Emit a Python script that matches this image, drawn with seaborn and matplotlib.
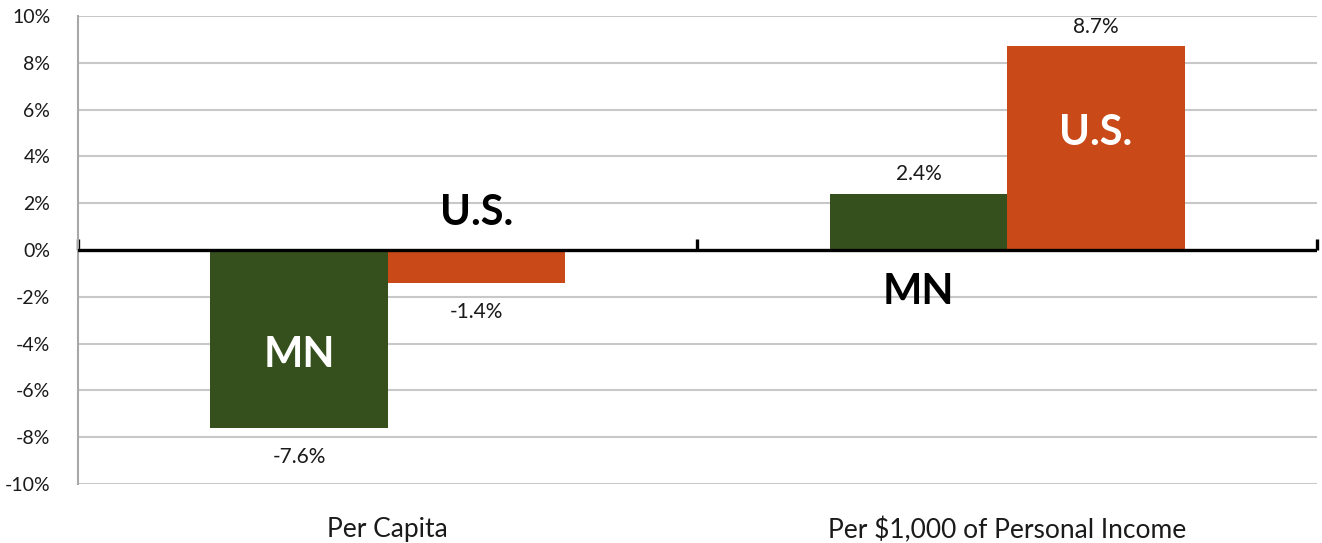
import matplotlib
matplotlib.use("Agg")
import matplotlib.pyplot as plt
import matplotlib.ticker as mticker
import pandas as pd
import seaborn as sns

# Percent change by measure, Minnesota vs. United States
categories = ["Per Capita", "Per $1,000 of Personal Income"]
series = ["MN", "U.S."]
mn_values = [-7.6, 2.4]
us_values = [-1.4, 8.7]
value_labels_mn = ["-7.6%", "2.4%"]
value_labels_us = ["-1.4%", "8.7%"]
y_ticks = [-10, -8, -6, -4, -2, 0, 2, 4, 6, 8, 10]

colors = {"MN": "#35501c", "U.S.": "#c94a18"}

df = pd.DataFrame({
    "category": categories * 2,
    "region": ["MN"] * len(categories) + ["U.S."] * len(categories),
    "value": mn_values + us_values,
})

sns.set_theme(style="white")
plt.rcParams["font.family"] = ["Lato", "DejaVu Sans"]

fig = plt.figure(figsize=(13.22, 5.43), dpi=100)
ax = fig.add_axes([0.059, 0.1087, 0.9372, 0.8618])

sns.barplot(data=df, x="category", y="value", hue="region", order=categories,
            hue_order=series, palette=colors, width=0.573, gap=0,
            saturation=1, legend=False, ax=ax, edgecolor="none", linewidth=0)

ax.set_xlim(-0.5, 1.5)
ax.set_ylim(-10, 10)
ax.set_yticks(y_ticks)
ax.yaxis.set_major_formatter(mticker.FuncFormatter(lambda v, _: f"{int(round(v))}%"))
ax.set_xlabel("")
ax.set_ylabel("")

# Horizontal gridlines and left axis
ax.grid(axis="y", color="#c8c8c8", linewidth=1.5)
ax.set_axisbelow(True)
for side in ("top", "right", "bottom"):
    ax.spines[side].set_visible(False)
ax.spines["left"].set_color("#a8a8a8")
ax.spines["left"].set_linewidth(1.5)
ax.tick_params(axis="y", direction="out", length=8, width=1.5, color="#a8a8a8",
               labelsize=14, labelcolor="#1a1a1a", pad=12)
ax.tick_params(axis="x", length=0, labelsize=19, labelcolor="#1a1a1a", pad=24)

# Category axis drawn along the zero line
ax.axhline(0, color="black", linewidth=2.4, zorder=5)
zero_axis = ax.secondary_xaxis(0.5)
zero_axis.set_xticks([-0.5, 0.5, 1.5])
zero_axis.set_xticklabels([])
zero_axis.tick_params(axis="x", direction="out", length=8, width=2.4, color="black")
for side in ("top", "bottom", "left", "right"):
    zero_axis.spines[side].set_visible(False)

# Value labels: above positive bars, below negative ones
mn_bars, us_bars = ax.containers[0], ax.containers[1]

def bar_center(bar):
    return bar.get_x() + bar.get_width() / 2

for bars, labels, values in ((mn_bars, value_labels_mn, mn_values),
                             (us_bars, value_labels_us, us_values)):
    for bar, label, value in zip(bars, labels, values):
        offset = 7 if value >= 0 else -14
        ax.annotate(label, (bar_center(bar), value), xytext=(0, offset),
                    textcoords="offset points", ha="center",
                    va="bottom" if value >= 0 else "top",
                    fontsize=15, color="#1a1a1a")

# Series names written on or beside the bars
big = dict(fontsize=30, fontweight="bold", ha="center", va="center")
ax.text(bar_center(mn_bars[0]), -4.5, series[0], color="white", **big)
ax.text(bar_center(us_bars[0]), 1.6, series[1], color="black", **big)
ax.text(bar_center(mn_bars[1]), -1.8, series[0], color="black", **big)
ax.text(bar_center(us_bars[1]), 5.0, series[1], color="white", **big)

fig.savefig("out.png", dpi=100)
